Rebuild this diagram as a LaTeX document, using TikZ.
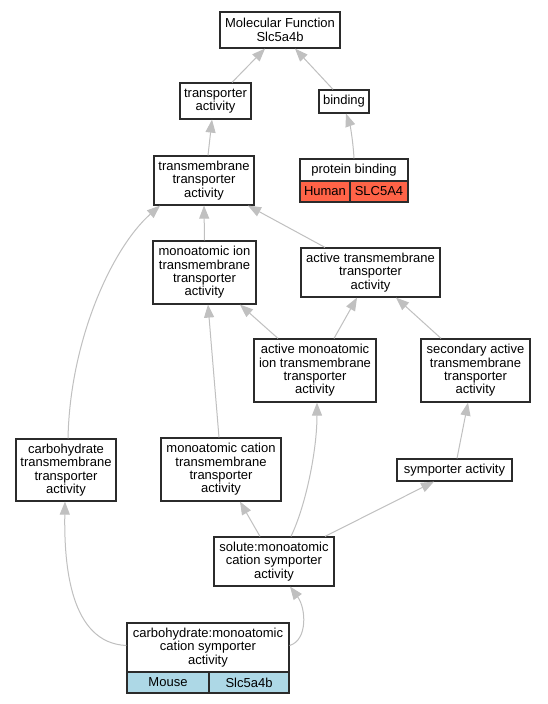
\documentclass[tikz,border=0pt]{standalone}
\usepackage{fontspec}
\setmainfont{Liberation Sans}
\usetikzlibrary{arrows.meta}
\definecolor{boxc}{HTML}{2B2B2B}
\definecolor{edgec}{HTML}{C0C0C0}
\definecolor{humanc}{HTML}{FF6347}
\definecolor{mousec}{HTML}{ADD8E6}
\begin{document}
\begin{tikzpicture}[x=1pt,y=-1pt,
  box/.style={draw=boxc,line width=1.2pt,fill=white,inner sep=0pt,align=center,font=\fontsize{13}{13.3}\selectfont},
  edge/.style={draw=edgec,line width=1pt,-{Triangle[length=13pt,width=10pt]}}]
\fill[white] (0,0) rectangle (547,704);
\useasboundingbox (0,0) rectangle (547,704);
% nodes
\node[box,minimum width=120pt,minimum height=36pt] (mf) at (280,30) {Molecular Function\\Slc5a4b};
\node[box,minimum width=71pt,minimum height=36pt] (tr) at (215.5,101) {transporter\\activity};
\node[box,minimum width=50pt,minimum height=23pt] (bd) at (344,101.5) {binding};
\node[box,minimum width=108pt,minimum height=22pt] (pb) at (354,170) {protein binding};
\node[box,fill=humanc,minimum width=50pt,minimum height=21pt] (pbH) at (325,191.5) {Human};
\node[box,fill=humanc,minimum width=58pt,minimum height=21pt] (pbS) at (379,191.5) {SLC5A4};
\node[box,minimum width=100pt,minimum height=49pt] (tm) at (204,180.5) {transmembrane\\transporter\\activity};
\node[box,minimum width=103pt,minimum height=63pt] (mi) at (204.5,272.5) {monoatomic ion\\transmembrane\\transporter\\activity};
\node[box,minimum width=139pt,minimum height=49pt] (at) at (370.5,272.5) {active transmembrane\\transporter\\activity};
\node[box,minimum width=122pt,minimum height=63pt] (ami) at (315,370.5) {active monoatomic\\ion transmembrane\\transporter\\activity};
\node[box,minimum width=109pt,minimum height=63pt] (sec) at (475.5,370.5) {secondary active\\transmembrane\\transporter\\activity};
\node[box,minimum width=100pt,minimum height=62pt] (ct) at (66,470) {carbohydrate\\transmembrane\\transporter\\activity};
\node[box,minimum width=120pt,minimum height=63pt] (mc) at (221,469.5) {monoatomic cation\\transmembrane\\transporter\\activity};
\node[box,minimum width=115pt,minimum height=22pt] (sym) at (454.5,470) {symporter activity};
\node[box,minimum width=120pt,minimum height=49pt] (sol) at (274,561.5) {solute:monoatomic\\cation symporter\\activity};
\node[box,minimum width=162pt,minimum height=49pt] (cm) at (208,647.5) {carbohydrate:monoatomic\\cation symporter\\activity};
\node[box,fill=mousec,minimum width=82pt,minimum height=21pt] (cmM) at (168,682.5) {Mouse};
\node[box,fill=mousec,minimum width=80pt,minimum height=21pt] (cmS) at (249,682.5) {Slc5a4b};
% edges
\draw[edge] ([xshift=16.5]tr.north) -- ([xshift=-15]mf.south);
\draw[edge] ([xshift=-11]bd.north) -- ([xshift=15]mf.south);
\draw[edge] (pb.north) .. controls (353,140) and (350,125) .. ([xshift=2]bd.south);
\draw[edge] ([xshift=4]tm.north) -- ([xshift=-3.5]tr.south);
\draw[edge] (mi.north) -- (tm.south);
\draw[edge] ([xshift=-45.5]at.north) -- ([xshift=44]tm.south);
\draw[edge] ([xshift=2]ct.north) .. controls (70,340) and (112,248) .. ([xshift=-44]tm.south);
\draw[edge] ([xshift=-2]mc.north) -- ([xshift=3.5]mi.south);
\draw[edge] ([xshift=-37]ami.north) -- ([xshift=35.5]mi.south);
\draw[edge] ([xshift=19]ami.north) -- ([xshift=-13.5]at.south);
\draw[edge] ([xshift=-34.5]sec.north) -- ([xshift=25.5]at.south);
\draw[edge] ([xshift=2.5]sym.north) -- ([xshift=-7.5]sec.south);
\draw[edge] ([xshift=-14]sol.north) -- ([xshift=19]mc.south);
\draw[edge] ([xshift=17]sol.north) .. controls (306,505) and (317,450) .. ([xshift=2]ami.south);
\draw[edge] ([xshift=51]sol.north) -- ([xshift=-20.5]sym.south);
\draw[edge] ([yshift=2]cm.west) .. controls (70,643) and (64,565) .. ([xshift=-1]ct.south);
\draw[edge] ([yshift=2]cm.east) .. controls (308,640) and (306,608) .. ([xshift=16]sol.south);
\end{tikzpicture}
\end{document}
